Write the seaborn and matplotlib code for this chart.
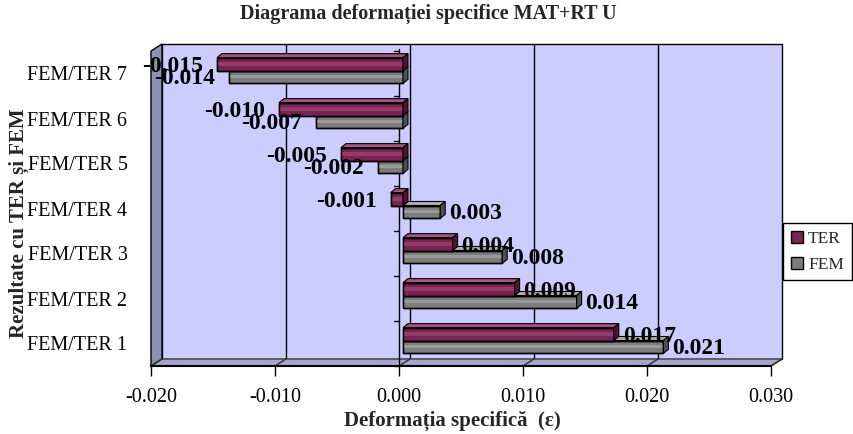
import numpy as np
import pandas as pd
import matplotlib
matplotlib.use("Agg")
import matplotlib.pyplot as plt
import seaborn as sns
from matplotlib.patches import Polygon, Rectangle, Patch
from matplotlib.transforms import ScaledTranslation

# Data
categories = ["FEM/TER 7", "FEM/TER 6", "FEM/TER 5", "FEM/TER 4",
              "FEM/TER 3", "FEM/TER 2", "FEM/TER 1"]
ter = [-0.015, -0.010, -0.005, -0.001, 0.004, 0.009, 0.017]
fem = [-0.014, -0.007, -0.002, 0.003, 0.008, 0.014, 0.021]
series = ["TER", "FEM"]
x_ticks = [-0.020, -0.010, 0.000, 0.010, 0.020, 0.030]

title = "Diagrama deformației specifice MAT+RT U"
x_label = "Deformația specifică  (ε)"
y_label = "Rezultate cu TER și FEM"

df = pd.DataFrame({
    "categorie": categories * 2,
    "serie": ["TER"] * len(ter) + ["FEM"] * len(fem),
    "valoare": ter + fem,
})

sns.set_theme(style="white")
plt.rcParams["font.family"] = ["Liberation Serif", "DejaVu Serif"]
plt.rcParams["axes.unicode_minus"] = False

W, H = 854, 434
fig = plt.figure(figsize=(W / 100, H / 100), dpi=100)
fig.patch.set_facecolor("white")
L, R, T, B = 151, 771, 51, 366
ax = fig.add_axes([L / W, 1 - B / H, (R - L) / W, (B - T) / H])
ax.patch.set_visible(False)

front = {"TER": "#7a2352", "FEM": "#7d7d7d"}
band = {"TER": "#933b69", "FEM": "#9a9a9a"}
top = {"TER": "#a5537f", "FEM": "#b0b0b0"}
side = {"TER": "#561236", "FEM": "#505050"}

sns.barplot(data=df, y="categorie", x="valoare", hue="serie",
            order=categories, hue_order=series, palette=front,
            orient="h", width=0.572, saturation=1, edgecolor="black",
            linewidth=1, legend=False, ax=ax)
bars = [p for p in ax.patches if isinstance(p, Rectangle)]

xmin, xmax = x_ticks[0], x_ticks[-1]
ax.set_xlim(xmin, xmax)
ax.set_ylim(len(categories) - 0.5, -0.5)

# 3D box: back wall, left wall, floor
axw, axh = R - L, B - T
dxa, dya = 11 / axw, 7 / axh
ax.add_patch(Rectangle((dxa, dya), 1, 1, transform=ax.transAxes,
                       fc="#ccccff", ec="black", lw=1, zorder=0, clip_on=False))
ax.add_patch(Polygon([(0, 0), (0, 1), (dxa, 1 + dya), (dxa, dya)],
                     closed=True, transform=ax.transAxes, fc="#9090b4",
                     ec="black", lw=1, zorder=1, clip_on=False))
ax.add_patch(Polygon([(0, 0), (1, 0), (1 + dxa, dya), (dxa, dya)],
                     closed=True, transform=ax.transAxes, fc="#a6a6cc",
                     ec="#404040", lw=1, zorder=1, clip_on=False))
for t in x_ticks:
    f = (t - xmin) / (xmax - xmin)
    if 0 < f < 1:
        ax.plot([f + dxa, f + dxa], [dya, 1 + dya], transform=ax.transAxes,
                color="black", lw=1, zorder=0.5, clip_on=False)
    ax.plot([f, f + dxa], [0, dya], transform=ax.transAxes,
            color="#303030", lw=1, zorder=1.2, clip_on=False)

# category axis crossing at zero, with ticks between categories
ax.plot([0, 0], [-0.55, len(categories) - 0.5], color="black", lw=1,
        zorder=2, clip_on=False)
tick_dx = 5 * (xmax - xmin) / axw
for b in np.arange(-0.5, len(categories)):
    ax.plot([-tick_dx, 0], [b, b], color="black", lw=1, zorder=2,
            clip_on=False)

# bars drawn mid-depth, with top and end faces
shift = ScaledTranslation(0.04, 0.03, fig.dpi_scale_trans)
tr = ax.transData + shift
ddx = 5 * (xmax - xmin) / axw
ddy = -4 * len(categories) / axh
for bar in bars:
    yc = bar.get_y() + bar.get_height() / 2
    name = "TER" if (yc - round(yc)) < 0 else "FEM"
    z = 4 if name == "TER" else 3
    bar.set_transform(tr)
    bar.set_zorder(z)
    w = bar.get_x() + bar.get_width() if bar.get_x() == 0 else bar.get_x()
    y0 = bar.get_y()
    h = bar.get_height()
    y1 = y0 + h
    xl, xr = min(0, w), max(0, w)
    ax.add_patch(Rectangle((xl, y0 + 0.32 * h), xr - xl, 0.3 * h,
                           transform=tr, fc=band[name], ec="none",
                           zorder=z + 0.05))
    ax.add_patch(Rectangle((xl, y0), xr - xl, h, transform=tr, fc="none",
                           ec="black", lw=1, zorder=z + 0.06))
    ax.add_patch(Polygon([(xl, y0), (xr, y0), (xr + ddx, y0 + ddy),
                          (xl + ddx, y0 + ddy)], closed=True, transform=tr,
                         fc=top[name], ec="black", lw=0.8, zorder=z + 0.1))
    ax.add_patch(Polygon([(xr, y0), (xr, y1), (xr + ddx, y1 + ddy),
                          (xr + ddx, y0 + ddy)], closed=True, transform=tr,
                         fc=side[name], ec="black", lw=0.8, zorder=z + 0.1))
    # value label
    if w >= 0:
        off = ScaledTranslation(0.09, -0.02, fig.dpi_scale_trans)
        ha = "left"
    else:
        off = ScaledTranslation(-0.14, -0.02, fig.dpi_scale_trans)
        ha = "right"
    ax.text(w, yc, f"{w:.3f}", transform=tr + off, ha=ha, va="center",
            fontsize=17, fontweight="bold", color="black", zorder=10,
            clip_on=False)

# axes styling
for s in ["top", "right", "left"]:
    ax.spines[s].set_visible(False)
ax.spines["bottom"].set_color("black")
ax.spines["bottom"].set_linewidth(1.5)
ax.spines["bottom"].set_zorder(2)
ax.set_xticks(x_ticks, labels=[f"{t:.3f}" for t in x_ticks])
ax.tick_params(axis="x", bottom=True, direction="out", length=7, width=1,
               color="black", pad=9, labelsize=14.5, labelcolor="black")
ax.set_yticks(range(len(categories)), labels=categories)
ax.tick_params(axis="y", left=False, length=0, pad=17, labelsize=14.5,
               labelcolor="black")
ax.set_xlabel("")
ax.set_ylabel("")
ax.grid(False)

fig.text(428 / W, 1 - 14 / H, title, ha="center", va="center",
         fontsize=14.5, fontweight="bold")
fig.text(452 / W, 1 - 421 / H, x_label, ha="center", va="center",
         fontsize=15, fontweight="bold")
fig.text(19 / W, 1 - 223 / H, y_label, ha="center", va="center",
         rotation=90, fontsize=15, fontweight="bold")

handles = [Patch(fc=front[s], ec="black", lw=1) for s in series]
leg = fig.legend(handles, series, loc="upper left",
                 bbox_to_anchor=(783 / W, 1 - 223 / H), frameon=True,
                 fancybox=False, edgecolor="black", framealpha=1,
                 fontsize=12.5, handlelength=0.7, handleheight=0.7,
                 handletextpad=0.3, borderpad=0.45, labelspacing=0.55,
                 borderaxespad=0)
leg.get_frame().set_linewidth(1)

fig.savefig("out.png", dpi=100, facecolor="white")
